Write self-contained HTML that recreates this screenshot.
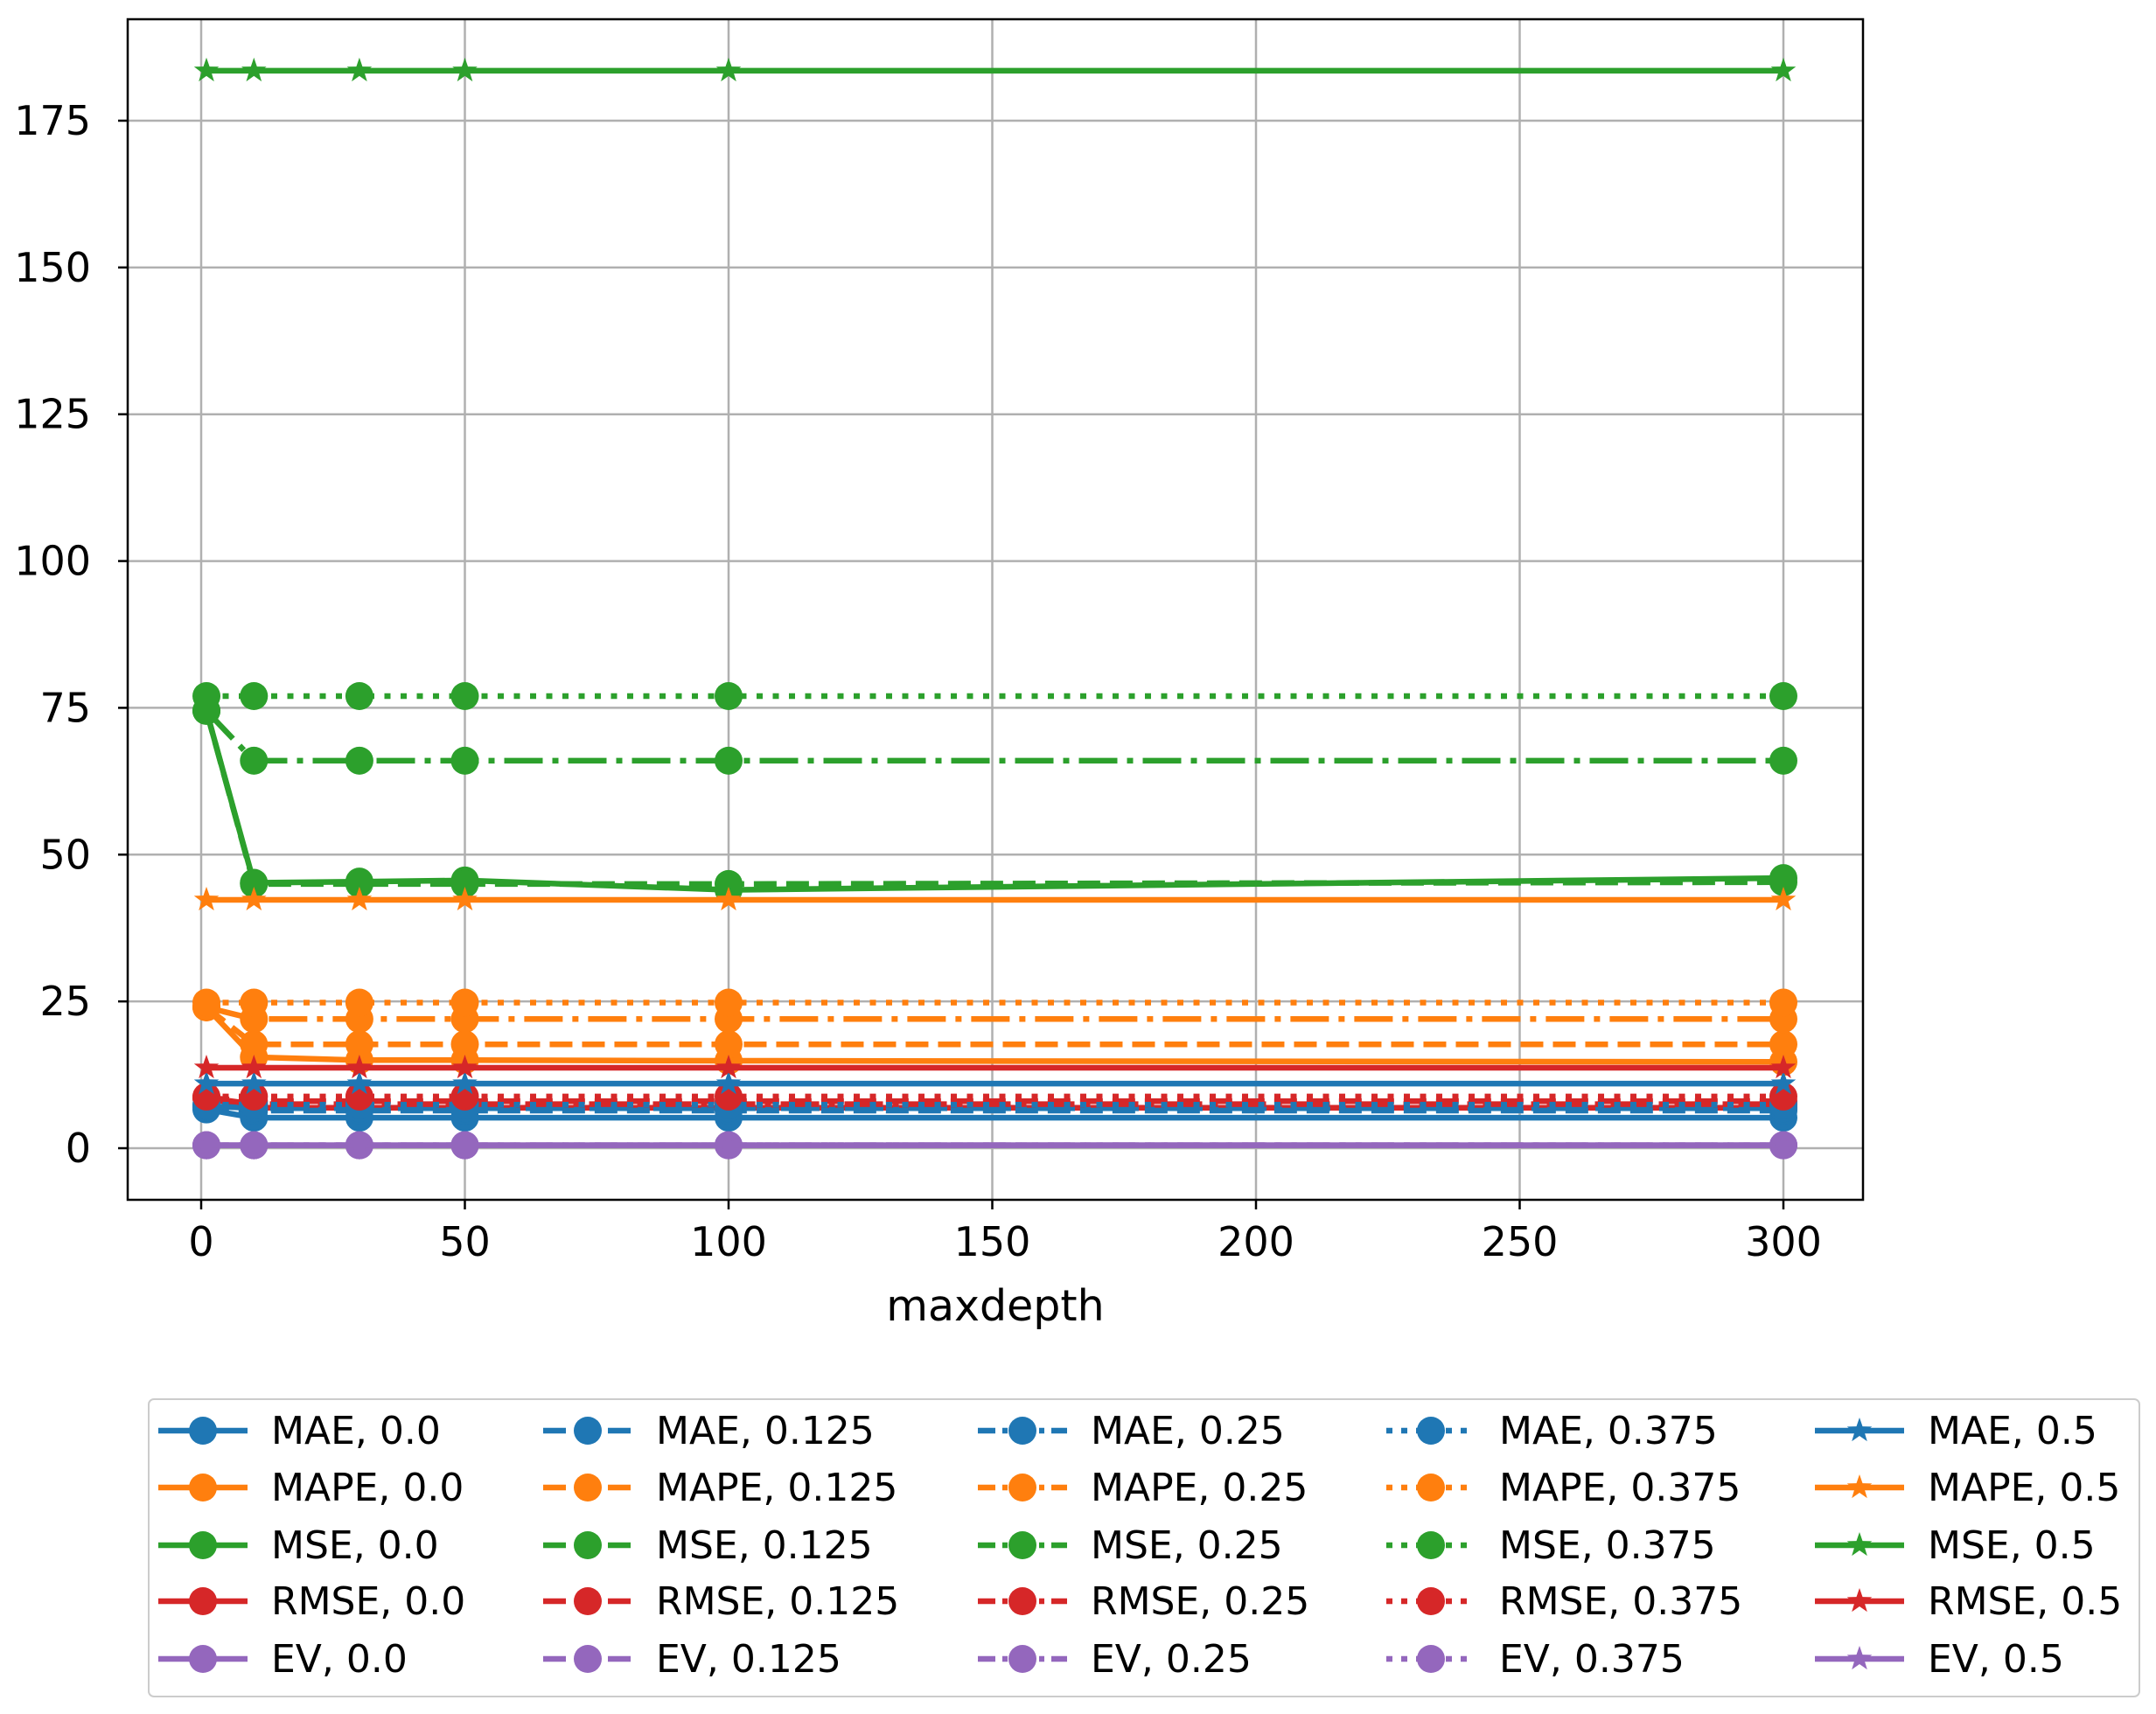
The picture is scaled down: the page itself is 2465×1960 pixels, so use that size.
<!DOCTYPE html>
<html><head><meta charset="utf-8"><style>
html,body{margin:0;padding:0;background:#fff;}
svg{display:block;font-family:"DejaVu Sans","Liberation Sans",sans-serif;}
</style></head><body>
<svg id="chart" width="2465" height="1960" viewBox="0 0 2465 1960" xmlns="http://www.w3.org/2000/svg">
<rect width="2465" height="1960" fill="#fff"/>
<g id="grid"></g><g id="series"></g><g id="axes"></g><g id="legend"></g>
</svg>
<script>
const xValues = [1, 10, 30, 50, 100, 300];
const xTicks = [0, 50, 100, 150, 200, 250, 300];
const yTicks = [0, 25, 50, 75, 100, 125, 150, 175];
const alphas = ["0.0", "0.125", "0.25", "0.375", "0.5"];
const metrics = ["MAE", "MAPE", "MSE", "RMSE", "EV"];
const maeVals = [[6.6,5.2,5.2,5.2,5.2,5.2],[7.0,6.4,6.4,6.4,6.4,6.4],[7.2,6.8,6.8,6.8,6.8,6.8],[7.4,7.4,7.4,7.4,7.4,7.4],[11,11,11,11,11,11]];
const mapeVals = [[24,15.5,15,15,14.9,14.7],[24,17.7,17.7,17.7,17.7,17.7],[24,22,22,22,22,22],[24.8,24.8,24.8,24.8,24.8,24.8],[42.3,42.3,42.3,42.3,42.3,42.3]];
const mseVals = [[74.5,45.2,45.4,45.6,44,46],[74.5,45,45,45,45,45.3],[74.5,66,66,66,66,66],[77,77,77,77,77,77],[183.5,183.5,183.5,183.5,183.5,183.5]];
const rmseVals = [[8.6,6.9,6.9,6.9,6.9,6.9],[8.6,8.0,8.0,8.0,8.0,8.0],[8.6,7.5,7.5,7.5,7.5,7.5],[8.8,8.8,8.8,8.8,8.8,8.8],[13.7,13.7,13.7,13.7,13.7,13.7]];
const evVals = [[0.5,0.5,0.5,0.5,0.5,0.5],[0.5,0.5,0.5,0.5,0.5,0.5],[0.5,0.5,0.5,0.5,0.5,0.5],[0.5,0.5,0.5,0.5,0.5,0.5],[0.5,0.5,0.5,0.5,0.5,0.5]];

const allVals = [maeVals, mapeVals, mseVals, rmseVals, evVals];
const colors = ["#1f77b4","#ff7f0e","#2ca02c","#d62728","#9467bd"];
const dashes = ["none","26,11","44,11,7,11","7,11.5","none"];
const legDashes = ["none","26,11","20,8,6,8","7,10","none"];
const NS = "http://www.w3.org/2000/svg";
const L=146,R=2130,T=22,B=1372;
const X0=230, XS=(2039-230)/300, Y0=1313, YS=(1313-138)/175;
const sx = v => X0 + v*XS;
const sy = v => Y0 - v*YS;
const LW=6.5, MR=16, SR=15;
function mk(tag, attrs, parent){const e=document.createElementNS(NS,tag);for(const k in attrs)e.setAttribute(k,attrs[k]);parent.appendChild(e);return e;}
function star(cx,cy,r){let p=[];for(let i=0;i<10;i++){const a=-Math.PI/2+i*Math.PI/5;const rr=i%2?r*0.4:r;p.push((cx+rr*Math.cos(a)).toFixed(1)+","+(cy+rr*Math.sin(a)).toFixed(1));}return p.join(" ");}
const grid=document.getElementById('grid'), ser=document.getElementById('series'), axes=document.getElementById('axes'), leg=document.getElementById('legend');
xTicks.forEach(t=>{
  const g=mk('line',{x1:sx(t),x2:sx(t),y1:T,y2:B,stroke:'#b0b0b0','stroke-width':2.5},grid);
  
  
  mk('line',{x1:sx(t),x2:sx(t),y1:B,y2:B+11,stroke:'#000','stroke-width':2.5},axes);
  const tx=mk('text',{x:sx(t),y:B+64,'font-size':46,'text-anchor':'middle',fill:'#000'},axes);
  tx.textContent=t;
  
  
});
yTicks.forEach(t=>{
  const g=mk('line',{x1:L,x2:R,y1:sy(t),y2:sy(t),stroke:'#b0b0b0','stroke-width':2.5},grid);
  
  
  mk('line',{x1:L-11,x2:L,y1:sy(t),y2:sy(t),stroke:'#000','stroke-width':2.5},axes);
  const tx=mk('text',{x:L-42,y:sy(t)+16,'font-size':46,'text-anchor':'end',fill:'#000'},axes);
  tx.textContent=t;
  
  
});
const frame=mk('rect',{x:L,y:T,width:R-L,height:B-T,fill:'none',stroke:'#000','stroke-width':2.5},axes);


const xl=mk('text',{x:1138,y:1510,'font-size':49,'text-anchor':'middle',fill:'#000'},axes);
xl.textContent='maxdepth';



for(let a=0;a<alphas.length;a++){
  for(let m=0;m<metrics.length;m++){
    const vals=allVals[m][a];
    const g=mk('g',{},ser);
    
    
    const pts=xValues.map((x,i)=>sx(x).toFixed(1)+','+sy(vals[i]).toFixed(1)).join(' ');
    const attrs={points:pts,fill:'none',stroke:colors[m],'stroke-width':LW};
    if(dashes[a]!=='none')attrs['stroke-dasharray']=dashes[a];
    mk('polyline',attrs,g);
    xValues.forEach((x,i)=>{
      let p;
      if(a===4) p=mk('polygon',{points:star(sx(x),sy(vals[i]),SR),fill:colors[m]},g);
      else p=mk('circle',{cx:sx(x),cy:sy(vals[i]),r:MR,fill:colors[m]},g);
      
      
    });
  }
}
const lb=mk('rect',{x:170,y:1600,width:2276,height:340,rx:6,fill:'#fff',stroke:'#ccc','stroke-width':2},leg);


const colLine=[181,621,1118,1585,2075];
const rowY=[1636,1701,1767,1831,1897];
for(let a=0;a<5;a++){
  for(let m=0;m<5;m++){
    const g=mk('g',{},leg);
    
    
    const x=colLine[a], y=rowY[m];
    const at={x1:x,x2:x+102,y1:y,y2:y,stroke:colors[m],'stroke-width':LW};
    if(legDashes[a]!=='none')at['stroke-dasharray']=legDashes[a];
    mk('line',at,g);
    if(a===4) mk('polygon',{points:star(x+51,y,SR),fill:colors[m]},g);
    else mk('circle',{cx:x+51,cy:y,r:MR,fill:colors[m]},g);
    const t=mk('text',{x:x+129,y:y+15,'font-size':44,fill:'#000'},g);
    t.textContent=metrics[m]+', '+alphas[a];
  }
}
</script>
</body></html>
